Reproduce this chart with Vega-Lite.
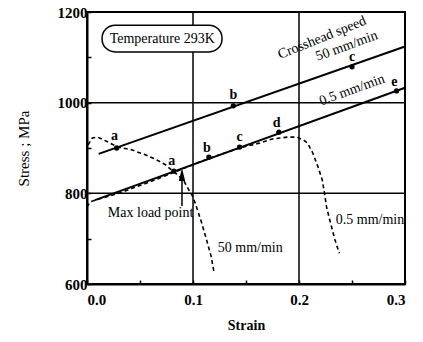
{
  "$schema": "https://vega.github.io/schema/vega-lite/v6.json",
  "autosize": {"type": "none"},
  "width": 318,
  "height": 272,
  "padding": {"left": 87, "top": 12, "right": 18, "bottom": 58},
  "background": "white",
  "config": {
    "view": {"stroke": "black", "strokeWidth": 2},
    "font": "Liberation Serif",
    "text": {"font": "Liberation Serif"},
    "axis": {
      "domainColor": "black", "domainWidth": 2, "tickColor": "black", "tickWidth": 1.5,
      "labelFont": "Liberation Serif", "labelFontWeight": "bold", "labelFontSize": 15, "labelColor": "black",
      "titleFont": "Liberation Serif", "titleColor": "black", "grid": false
    }
  },
  "layer": [
    {
      "data": {"values": [{"g": 0.1}, {"g": 0.2}]},
      "mark": {"type": "rule", "color": "black", "strokeWidth": 1.5},
      "encoding": {
        "x": {"field": "g", "type": "quantitative", "scale": {"domain": [0, 0.3], "nice": false},
          "axis": {"values": [0, 0.05, 0.1, 0.15, 0.2, 0.25, 0.3],
            "labelExpr": "round(datum.value*100) % 10 == 0 ? format(datum.value, '.1f') : ''",
            "tickSize": -4, "labelPadding": 12, "title": "Strain", "titleFontSize": 14, "titleFontWeight": "bold", "titlePadding": 11}}
      }
    },
    {
      "data": {"values": [{"g": 800}, {"g": 1000}]},
      "mark": {"type": "rule", "color": "black", "strokeWidth": 1.5},
      "encoding": {
        "y": {"field": "g", "type": "quantitative", "scale": {"domain": [600, 1200], "nice": false},
          "axis": {"values": [600, 700, 800, 900, 1000, 1100, 1200],
            "labelExpr": "datum.value % 200 == 0 ? datum.value : ''",
            "tickSize": -4, "labelPadding": 4, "title": "Stress ; MPa", "titleFontSize": 15, "titleFontWeight": "normal", "titlePadding": 26}}
      }
    },
    {
      "data": {"values": [{"x": 0.0142, "x2": 0.1274, "y": 1112, "y2": 1171}]},
      "mark": {"type": "rect", "cornerRadius": 13, "fill": "white", "stroke": "black", "strokeWidth": 1.5},
      "encoding": {
        "x": {"field": "x", "type": "quantitative"}, "x2": {"field": "x2"},
        "y": {"field": "y", "type": "quantitative"}, "y2": {"field": "y2"}
      }
    },
    {
      "data": {"values": [
        {"s": "50", "x": 0.011, "y": 887}, {"s": "50", "x": 0.3, "y": 1124},
        {"s": "0.5", "x": 0.0075, "y": 785}, {"s": "0.5", "x": 0.3, "y": 1033}
      ]},
      "mark": {"type": "line", "color": "black", "strokeWidth": 2},
      "encoding": {
        "x": {"field": "x", "type": "quantitative"},
        "y": {"field": "y", "type": "quantitative"},
        "detail": {"field": "s"}
      }
    },
    {
      "data": {"values": [
        {"s": "50", "i": 1, "x": 0.001, "y": 907}, {"s": "50", "i": 2, "x": 0.005, "y": 922},
        {"s": "50", "i": 3, "x": 0.010, "y": 924}, {"s": "50", "i": 4, "x": 0.020, "y": 913},
        {"s": "50", "i": 5, "x": 0.029, "y": 902}, {"s": "50", "i": 6, "x": 0.042, "y": 896},
        {"s": "50", "i": 7, "x": 0.055, "y": 885}, {"s": "50", "i": 8, "x": 0.064, "y": 876},
        {"s": "50", "i": 9, "x": 0.074, "y": 863}, {"s": "50", "i": 10, "x": 0.080, "y": 851},
        {"s": "50", "i": 11, "x": 0.086, "y": 840}, {"s": "50", "i": 12, "x": 0.091, "y": 829},
        {"s": "50", "i": 13, "x": 0.095, "y": 812}, {"s": "50", "i": 14, "x": 0.100, "y": 792},
        {"s": "50", "i": 15, "x": 0.104, "y": 765}, {"s": "50", "i": 16, "x": 0.108, "y": 736},
        {"s": "50", "i": 17, "x": 0.112, "y": 704}, {"s": "50", "i": 18, "x": 0.117, "y": 662},
        {"s": "50", "i": 19, "x": 0.120, "y": 624},
        {"s": "0.5", "i": 1, "x": 0.0, "y": 770}, {"s": "0.5", "i": 2, "x": 0.003, "y": 781},
        {"s": "0.5", "i": 3, "x": 0.012, "y": 788}, {"s": "0.5", "i": 4, "x": 0.031, "y": 801},
        {"s": "0.5", "i": 5, "x": 0.059, "y": 825}, {"s": "0.5", "i": 6, "x": 0.083, "y": 847},
        {"s": "0.5", "i": 7, "x": 0.106, "y": 869}, {"s": "0.5", "i": 8, "x": 0.125, "y": 885},
        {"s": "0.5", "i": 9, "x": 0.144, "y": 900}, {"s": "0.5", "i": 10, "x": 0.163, "y": 911},
        {"s": "0.5", "i": 11, "x": 0.175, "y": 920}, {"s": "0.5", "i": 12, "x": 0.189, "y": 924},
        {"s": "0.5", "i": 13, "x": 0.198, "y": 924}, {"s": "0.5", "i": 14, "x": 0.204, "y": 918},
        {"s": "0.5", "i": 15, "x": 0.208, "y": 911}, {"s": "0.5", "i": 16, "x": 0.213, "y": 889},
        {"s": "0.5", "i": 17, "x": 0.218, "y": 858}, {"s": "0.5", "i": 18, "x": 0.222, "y": 829},
        {"s": "0.5", "i": 19, "x": 0.224, "y": 801}, {"s": "0.5", "i": 20, "x": 0.226, "y": 770},
        {"s": "0.5", "i": 21, "x": 0.229, "y": 741}, {"s": "0.5", "i": 22, "x": 0.234, "y": 697},
        {"s": "0.5", "i": 23, "x": 0.238, "y": 668}
      ]},
      "mark": {"type": "line", "color": "black", "strokeWidth": 1.6, "strokeDash": [4, 3], "interpolate": "linear"},
      "encoding": {
        "x": {"field": "x", "type": "quantitative"},
        "y": {"field": "y", "type": "quantitative"},
        "detail": {"field": "s"},
        "order": {"field": "i", "type": "quantitative"}
      }
    },
    {
      "data": {"values": [
        {"x": 0.028, "y": 900}, {"x": 0.138, "y": 993}, {"x": 0.25, "y": 1079},
        {"x": 0.082, "y": 849}, {"x": 0.115, "y": 880}, {"x": 0.144, "y": 902},
        {"x": 0.181, "y": 935}, {"x": 0.292, "y": 1026}
      ]},
      "mark": {"type": "circle", "color": "black", "opacity": 1, "size": 28},
      "encoding": {
        "x": {"field": "x", "type": "quantitative"},
        "y": {"field": "y", "type": "quantitative"}
      }
    },
    {
      "data": {"values": [
        {"t": "a", "x": 0.026, "y": 926}, {"t": "b", "x": 0.138, "y": 1017}, {"t": "c", "x": 0.25, "y": 1101},
        {"t": "a", "x": 0.080, "y": 871}, {"t": "b", "x": 0.113, "y": 900}, {"t": "c", "x": 0.144, "y": 924},
        {"t": "d", "x": 0.179, "y": 955}, {"t": "e", "x": 0.29, "y": 1046}
      ]},
      "mark": {"type": "text", "font": "Liberation Serif", "fontSize": 14, "fontWeight": "bold", "color": "black"},
      "encoding": {
        "x": {"field": "x", "type": "quantitative"},
        "y": {"field": "y", "type": "quantitative"},
        "text": {"field": "t"}
      }
    },
    {
      "data": {"values": [
        {"t": "Temperature 293K", "x": 0.071, "y": 1141.5, "a": 0},
        {"t": "Max  load  point", "x": 0.060, "y": 757, "a": 0},
        {"t": "50  mm/min", "x": 0.154, "y": 679, "a": 0},
        {"t": "0.5  mm/min", "x": 0.267, "y": 741, "a": 0},
        {"t": "Crosshead  speed", "x": 0.2217, "y": 1143, "a": 338},
        {"t": "50  mm/min", "x": 0.245, "y": 1125, "a": 340},
        {"t": "0.5  mm/min", "x": 0.25, "y": 1028, "a": 340}
      ]},
      "mark": {"type": "text", "font": "Liberation Serif", "fontSize": 14, "color": "black"},
      "encoding": {
        "x": {"field": "x", "type": "quantitative"},
        "y": {"field": "y", "type": "quantitative"},
        "text": {"field": "t"},
        "angle": {"field": "a", "type": "quantitative", "scale": null}
      }
    },
    {
      "data": {"values": [{"x": 0.0896, "y": 772, "y2": 832}]},
      "mark": {"type": "rule", "color": "black", "strokeWidth": 1.5},
      "encoding": {
        "x": {"field": "x", "type": "quantitative"},
        "y": {"field": "y", "type": "quantitative"}, "y2": {"field": "y2"}
      }
    },
    {
      "data": {"values": [{"x": 0.0896, "y": 838}]},
      "mark": {"type": "point", "filled": true, "color": "black", "opacity": 1, "size": 260, "shape": "M0,-1L0.4,0.6L-0.4,0.6Z"},
      "encoding": {
        "x": {"field": "x", "type": "quantitative"},
        "y": {"field": "y", "type": "quantitative"}
      }
    }
  ]
}
